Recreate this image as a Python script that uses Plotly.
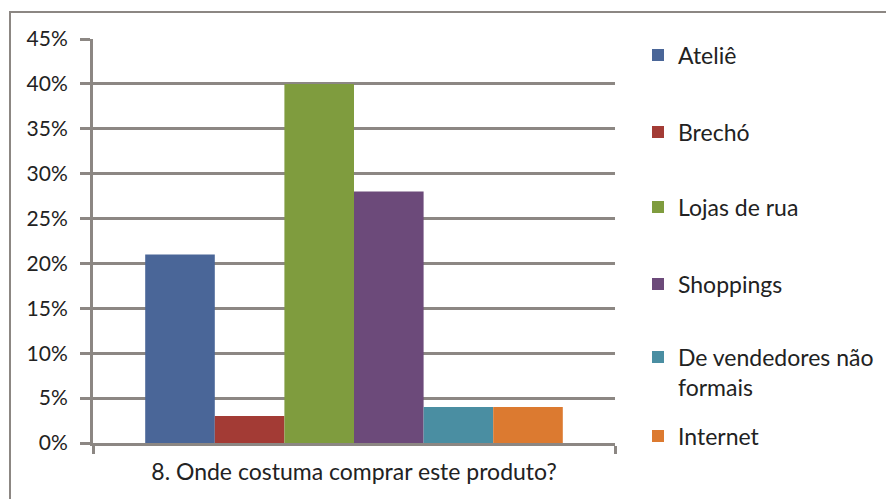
import plotly.graph_objects as go

category = ["8. Onde costuma comprar este produto?"]
series = ["Ateliê", "Brechó", "Lojas de rua", "Shoppings", "De vendedores não<br>formais", "Internet"]
values = [0.21, 0.03, 0.40, 0.28, 0.04, 0.04]
colors = ["#4a6698", "#a33b35", "#7f9c3e", "#6c4a7a", "#4a8ea2", "#dc7a30"]
y_ticks = [0, 0.05, 0.10, 0.15, 0.20, 0.25, 0.30, 0.35, 0.40, 0.45]
y_labels = ["0%", "5%", "10%", "15%", "20%", "25%", "30%", "35%", "40%", "45%"]

W, H = 886, 499
L, R, T, B = 93, 271, 39, 56
pw, ph = W - L - R, H - T - B

# legend entry vertical centres (px from top)
legend_centres = [55, 132, 207, 284, 372, 436]

fig = go.Figure()
legend_layout = {}
for i, (name, v, c, py) in enumerate(zip(series, values, colors, legend_centres)):
    key = "legend" if i == 0 else f"legend{i + 1}"
    fig.add_trace(go.Bar(x=category, y=[v], name=name, marker_color=c,
                         marker_line_width=0, legend=key))
    legend_layout[key] = dict(x=(638 - L) / pw, xanchor="left",
                              y=1 - py / H, yref="container", yanchor="middle",
                              font=dict(size=23), itemwidth=30, valign="top",
                              bgcolor="rgba(0,0,0,0)")

grid = "#8c8783"
fig.update_layout(
    width=W, height=H,
    margin=dict(l=L, r=R, t=T, b=B, autoexpand=False),
    paper_bgcolor="white", plot_bgcolor="white",
    barmode="group", bargap=0.2, bargroupgap=0,
    font=dict(family="Lato, Open Sans, sans-serif", size=21, color="#222222"),
    showlegend=True,
    xaxis=dict(showline=True, linecolor=grid, linewidth=3, ticks="outside",
               tickson="boundaries", ticklen=8, tickcolor=grid, tickwidth=3,
               showgrid=False, tickfont=dict(size=23), ticklabelstandoff=6),
    yaxis=dict(range=[0, 0.45], tickvals=y_ticks, ticktext=y_labels,
               showline=True, linecolor=grid, linewidth=3,
               ticks="outside", ticklen=10, tickcolor=grid, tickwidth=3,
               showgrid=True, gridcolor=grid, gridwidth=3, zeroline=False,
               ticklabelstandoff=8, tickfont=dict(size=21)),
    shapes=[dict(type="rect", xref="paper", yref="paper",
                 x0=(10 - L) / pw, x1=(892 - L) / pw,
                 y0=(443 - 510) / ph, y1=(443 - 12) / ph,
                 line=dict(color="#8c8783", width=2), fillcolor="rgba(0,0,0,0)",
                 layer="below")],
    **legend_layout,
)

fig.write_html("out.html")
